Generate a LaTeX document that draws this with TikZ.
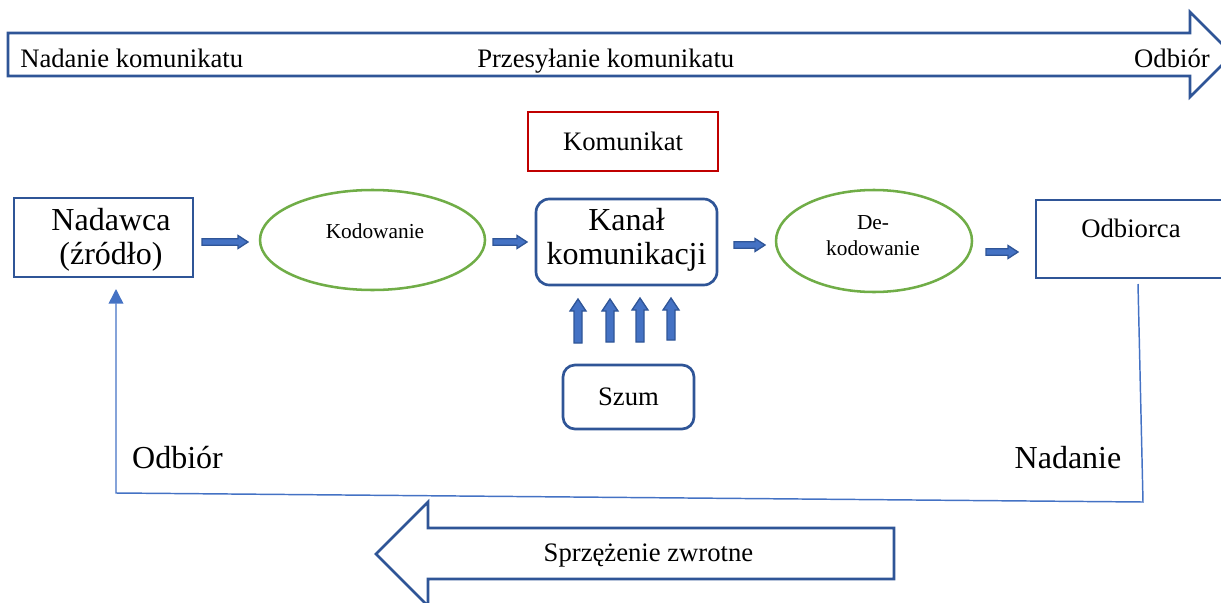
\documentclass[tikz,border=0pt]{standalone}
\usepackage{fontspec}
\setmainfont{Liberation Serif}
\usetikzlibrary{arrows.meta,shapes.geometric}
\definecolor{dblue}{HTML}{2F5597}
\definecolor{lblue}{HTML}{4472C4}
\definecolor{ogreen}{HTML}{70AD47}
\definecolor{dred}{HTML}{C00000}
\newcommand{\hblk}[3]{\draw[blk] (#1,#3-3.2) -- (#2-10,#3-3.2) -- (#2-10,#3-6.5) -- (#2,#3) -- (#2-10,#3+6.5) -- (#2-10,#3+3.2) -- (#1,#3+3.2) -- cycle;}
\newcommand{\vblk}[3]{\draw[blk] (#1-4,#2) -- (#1-4,#3+12) -- (#1-8,#3+12) -- (#1,#3) -- (#1+8,#3+12) -- (#1+4,#3+12) -- (#1+4,#2) -- cycle;}
\begin{document}
\begin{tikzpicture}[x=0.75pt,y=-0.75pt,
  every node/.style={inner sep=0pt},
  box/.style={draw=dblue, line width=2pt},
  rbox/.style={box, rounded corners=10pt},
  ell/.style={draw=ogreen, line width=1.9pt, ellipse},
  bigarrow/.style={draw=dblue, line width=2pt, fill=white, line join=miter},
  blk/.style={draw=dblue, line width=1pt, fill=lblue},
  fb/.style={draw=lblue, line width=1.1pt},
  fsa/.style={font=\fontsize{20}{24}\selectfont},
  fsb/.style={font=\fontsize{24}{25.5}\selectfont, align=center},
  fsc/.style={font=\fontsize{16}{19.5}\selectfont, align=center}]
\useasboundingbox (0,0) rectangle (1221,603);
\clip (0,0) rectangle (1221,603);

% top process arrow
\draw[bigarrow] (8,33) -- (1190,33) -- (1190,12) -- (1232.5,54.5) -- (1190,97) -- (1190,76) -- (8,76) -- cycle;
\node[fsa, anchor=base west] (t1) at (20,67) {Nadanie komunikatu};
\node[fsa, anchor=base west] (t2) at (477,67) {Przesyłanie komunikatu};
\node[fsa, anchor=base east] (t3) at (1210,67) {Odbiór};

% message
\node[draw=dred, line width=1.9pt, minimum width=142.5pt, minimum height=44.25pt, fsa] (kom) at (623,141.5) {Komunikat};

% main row
\node[box, minimum width=134.25pt, minimum height=59.25pt] (nad) at (103.5,237.5) {};
\node[fsb] (nadtxt) at (111,240) {Nadawca\\(źródło)};

\node[ell, minimum width=168.75pt, minimum height=75pt] (kod) at (372.5,240) {};
\node[fsc] (kodtxt) at (375,231) {Kodowanie};

\node[rbox, minimum width=135.75pt, minimum height=64.5pt] (kan) at (626.5,242) {};
\node[fsb] (kantxt) at (626.5,240) {Kanał\\komunikacji};

\node[ell, minimum width=147pt, minimum height=76.5pt] (dek) at (874,241) {};
\node[fsc] (dektxt) at (873,236) {De-\\kodowanie};

\node[box, minimum width=142.5pt, minimum height=58.5pt] (odb) at (1131,239) {};
\node[fsa] (odbtxt) at (1131,228) {Odbiorca};

% noise
\node[rbox, rounded corners=9pt, minimum width=98.25pt, minimum height=48pt, fsa] (szum) at (628.5,397) {Szum};

% block arrows
\hblk{202}{248}{242}
\hblk{493}{527}{242}
\hblk{734}{765}{245}
\hblk{986}{1018}{252}
\vblk{578}{343}{299}
\vblk{610}{342}{299}
\vblk{640}{342}{298}
\vblk{671}{340}{298}

% feedback loop
\coordinate (fbs) at (1138,284);
\coordinate (fbe) at (116,289);
\draw[fb, -{Triangle[length=11pt,width=11pt]}] (fbs) -- (1143,502) -- (116,493) -- (fbe);
\node[fsb, anchor=base] (lodb) at (177.5,468) {Odbiór};
\node[fsb, anchor=base] (lnad) at (1068,468) {Nadanie};

% feedback arrow
\draw[bigarrow] (376,554) -- (428,502) -- (428,528) -- (894,528) -- (894,579) -- (428,579) -- (428,606) -- cycle;
\node[fsa] (fbtxt) at (648.5,556) {Sprzężenie zwrotne};
\end{tikzpicture}
\end{document}
